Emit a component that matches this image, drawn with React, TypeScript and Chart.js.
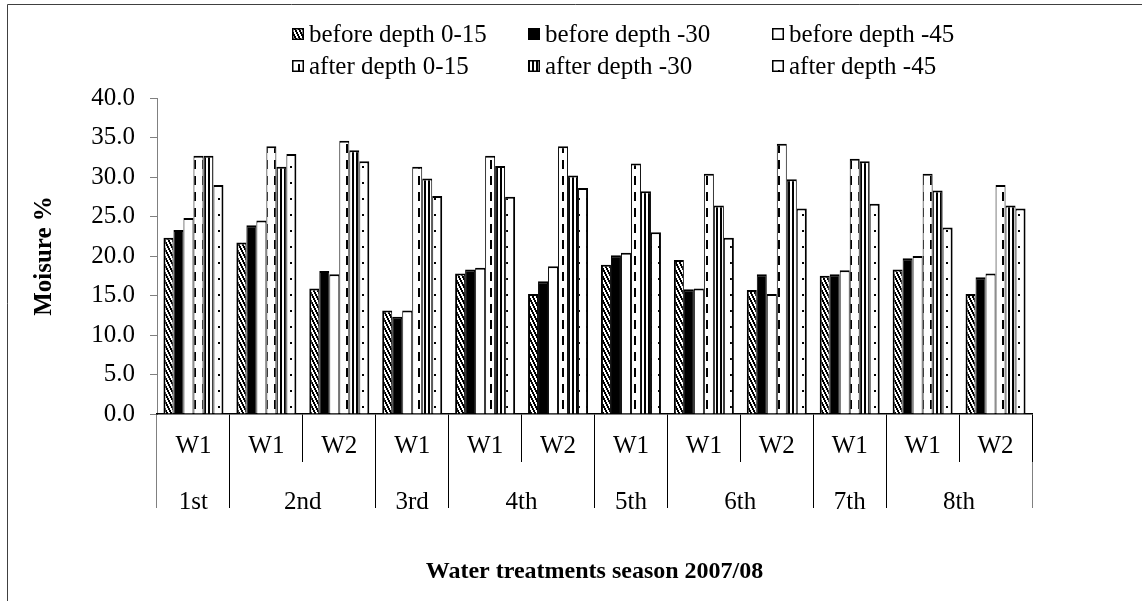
import React, { useEffect, useRef } from "react";
import { Chart, registerables } from "chart.js";

Chart.register(...registerables);

// ---------- data ----------
const subLabels = ["W1", "W1", "W2", "W1", "W1", "W2", "W1", "W1", "W2", "W1", "W1", "W2"];
const periodLabels = ["1st", "2nd", "3rd", "4th", "5th", "6th", "7th", "8th"];
const periodSpans = [1, 2, 1, 2, 1, 2, 1, 2];

const seriesNames = [
  "before depth 0-15",
  "before depth -30",
  "before depth -45",
  "after depth 0-15",
  "after depth -30",
  "after depth -45",
];

const beforeDepth15 = [22.3, 21.7, 15.9, 13.1, 17.8, 15.2, 18.9, 19.5, 15.7, 17.5, 18.3, 15.2];
const beforeDepth30 = [23.3, 23.9, 18.1, 12.3, 18.3, 16.8, 20.1, 15.8, 17.7, 17.7, 19.7, 17.3];
const beforeDepth45 = [24.8, 24.5, 17.7, 13.1, 18.5, 18.7, 20.4, 15.9, 15.2, 18.2, 20.0, 17.8];
const afterDepth15 = [32.7, 33.9, 34.6, 31.3, 32.7, 33.9, 31.7, 30.4, 34.2, 32.3, 30.4, 29.0];
const afterDepth30 = [32.7, 31.3, 33.4, 29.8, 31.4, 30.2, 28.2, 26.4, 29.7, 32.0, 28.3, 26.4];
const afterDepth45 = [29.0, 32.9, 32.0, 27.6, 27.5, 28.6, 23.0, 22.3, 26.0, 26.6, 23.6, 26.0];

const seriesValues = [beforeDepth15, beforeDepth30, beforeDepth45, afterDepth15, afterDepth30, afterDepth45];

const yAxisTitle = "Moisure %";
const xAxisTitle = "Water treatments season 2007/08";

// ---------- styling ----------
const FONT = "'Liberation Serif', 'Times New Roman', Times, serif";
const W = 1142;
const H = 601;

function makePattern(kind: string): CanvasPattern | string {
  const c = document.createElement("canvas");
  const ctx = c.getContext("2d")!;
  if (kind === "hatch") {
    c.width = 4;
    c.height = 8;
    ctx.fillStyle = "#fff";
    ctx.fillRect(0, 0, 4, 8);
    ctx.fillStyle = "#000";
    for (let y = 0; y < 8; y++) {
      const x = Math.floor(y / 2);
      ctx.fillRect(x, y, 1, 1);
      ctx.fillRect((x + 1) % 4, y, 1, 1);
    }
  } else if (kind === "dashV") {
    c.width = 8;
    c.height = 16;
    ctx.fillStyle = "#fff";
    ctx.fillRect(0, 0, 8, 16);
    ctx.fillStyle = "#000";
    ctx.fillRect(2, 0, 2, 9);
  } else if (kind === "stripesV") {
    c.width = 4;
    c.height = 4;
    ctx.fillStyle = "#fff";
    ctx.fillRect(0, 0, 4, 4);
    ctx.fillStyle = "#000";
    ctx.fillRect(0, 0, 2, 4);
  } else if (kind === "dots") {
    c.width = 8;
    c.height = 16;
    ctx.fillStyle = "#fff";
    ctx.fillRect(0, 0, 8, 16);
    ctx.fillStyle = "#000";
    ctx.fillRect(2, 6, 2, 2);
  } else if (kind === "black") {
    return "#000";
  } else {
    return "#fff";
  }
  const p = ctx.createPattern(c, "repeat");
  return p || "#fff";
}

const fillKinds = ["hatch", "black", "white", "dashV", "stripesV", "dots"];

export default function App() {
  const ref = useRef<HTMLCanvasElement | null>(null);

  useEffect(() => {
    const canvas = ref.current;
    if (!canvas) return;
    const fills = fillKinds.map(makePattern);

    // span centres / boundaries for the outer category tier
    const bounds: number[] = [0];
    periodSpans.forEach((s) => bounds.push(bounds[bounds.length - 1] + s));
    const centers = periodSpans.map((s, i) => bounds[i] + s / 2);

    const align = (px: number) => Math.round(px - 0.5) + 0.5;

    const frame = {
      id: "frame",
      beforeDraw(chart: any) {
        const ctx = chart.ctx;
        ctx.save();
        ctx.fillStyle = "#fff";
        ctx.fillRect(0, 0, chart.width, chart.height);
        ctx.strokeStyle = "#404040";
        ctx.lineWidth = 1;
        ctx.beginPath();
        ctx.moveTo(7.5, chart.height + 2);
        ctx.lineTo(7.5, 4.5);
        ctx.lineTo(chart.width + 2, 4.5);
        ctx.stroke();
        ctx.restore();
      },
    };

    const separators = {
      id: "separators",
      afterDraw(chart: any) {
        const ctx = chart.ctx;
        const xs = chart.scales.x;
        const top = xs.bottom;
        const bottom = xs.bottom + 46;
        ctx.save();
        ctx.lineWidth = 1;
        bounds.forEach((b, i) => {
          const left = xs.getPixelForValue(0);
          const step = xs.getPixelForValue(1) - left;
          const px = align(left + (b - 0.5) * step);
          ctx.strokeStyle = i === 0 || i === bounds.length - 1 ? "#808080" : "#000";
          ctx.beginPath();
          ctx.moveTo(px, top);
          ctx.lineTo(px, bottom);
          ctx.stroke();
        });
        ctx.restore();
      },
    };

    const legendCols = [292, 528, 772];
    const legendRows = [34, 66];
    const legend = {
      id: "customLegend",
      afterDraw(chart: any) {
        const ctx = chart.ctx;
        ctx.save();
        ctx.font = `25px ${FONT}`;
        ctx.textBaseline = "middle";
        ctx.textAlign = "left";
        chart.data.datasets.forEach((ds: any, i: number) => {
          const col = i % 3;
          const row = Math.floor(i / 3);
          const bx = legendCols[col];
          const by = legendRows[row] - 6;
          ctx.fillStyle = ds.backgroundColor;
          ctx.fillRect(bx, by, 12, 12);
          ctx.strokeStyle = "#000";
          ctx.lineWidth = 1.5;
          ctx.strokeRect(bx + 0.75, by + 0.75, 10.5, 10.5);
          ctx.fillStyle = "#000";
          ctx.fillText(ds.label, bx + 17, legendRows[row] + 1);
        });
        ctx.restore();
      },
    };

    const chart = new Chart(canvas, {
      type: "bar",
      data: {
        labels: subLabels,
        datasets: seriesNames.map((name, i) => ({
          label: name,
          data: seriesValues[i],
          backgroundColor: fills[i] as any,
          borderColor: "#000",
          borderWidth: { top: 2, bottom: 0, left: i === 0 ? 2 : 1, right: i === 5 ? 2 : 1 },
          borderSkipped: "start",
          categoryPercentage: 0.823,
          barPercentage: 1,
          xAxisID: "x",
          yAxisID: "y",
        })),
      },
      options: {
        animation: false,
        responsive: true,
        maintainAspectRatio: false,
        devicePixelRatio: 1,
        layout: { padding: { top: 98, right: 110, left: 0, bottom: 0 } },
        plugins: {
          legend: { display: false },
          tooltip: { enabled: false },
        },
        scales: {
          y: {
            position: "left",
            min: 0,
            max: 40,
            ticks: {
              stepSize: 5,
              callback: (v: any) => Number(v).toFixed(1),
              font: { family: FONT, size: 25 },
              color: "#000",
              padding: 15,
            },
            grid: { drawOnChartArea: false, tickLength: 7, color: "#808080", lineWidth: 1 },
            border: { display: true, color: "#808080", width: 1 },
            title: {
              display: true,
              text: yAxisTitle,
              color: "#000",
              font: { family: FONT, size: 25, weight: "bold" },
              padding: { top: 30, bottom: 0 },
            },
            afterFit: (s: any) => {
              s.width = 157;
            },
          },
          x: {
            type: "category",
            position: "bottom",
            weight: 1,
            offset: true,
            grid: {
              display: true,
              drawOnChartArea: false,
              offset: true,
              tickLength: 48,
              lineWidth: 1,
              color: (ctx: any) => (ctx.index === 0 || ctx.index === subLabels.length ? "#808080" : "#000"),
            },
            border: { display: true, color: "#000", width: 1.5 },
            ticks: {
              font: { family: FONT, size: 25 },
              color: "#000",
              padding: -31,
              maxRotation: 0,
              autoSkip: false,
            },
            afterFit: (s: any) => {
              s.height = 48;
            },
          },
          x2: {
            type: "linear",
            position: "bottom",
            weight: 2,
            offset: false,
            min: 0,
            max: subLabels.length,
            grid: { display: false, offset: false },
            border: { display: false },
            afterBuildTicks: (s: any) => {
              s.ticks = centers.map((v) => ({ value: v }));
            },
            ticks: {
              autoSkip: false,
              maxRotation: 0,
              padding: 17,
              font: { family: FONT, size: 25 },
              color: "#000",
              callback: (_v: any, i: number) => periodLabels[i],
            },
            title: {
              display: true,
              text: xAxisTitle,
              color: "#000",
              font: { family: FONT, size: 24, weight: "bold" },
              padding: { top: 0, bottom: 15 },
            },
            afterFit: (s: any) => {
              s.height = H - 414 - 48;
            },
          },
        },
      } as any,
      plugins: [frame, separators, legend],
    });

    return () => chart.destroy();
  }, []);

  return (
    <div style={{ position: "absolute", left: 0, top: 0, width: W, height: H, background: "#fff" }}>
      <canvas ref={ref} />
    </div>
  );
}
